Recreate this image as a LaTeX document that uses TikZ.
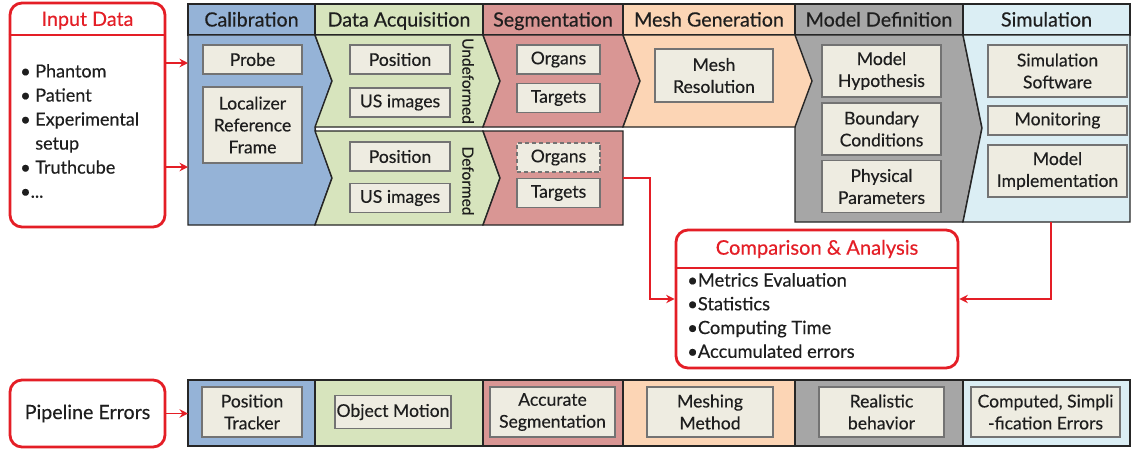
\documentclass[tikz,border=0pt]{standalone}
\usepackage{fontspec}
\setmainfont{Lato}[FakeBold=0.35]
\usetikzlibrary{arrows.meta,calc}

\definecolor{calib}{RGB}{149,179,215}
\definecolor{acq}{RGB}{215,228,189}
\definecolor{seg}{RGB}{217,150,148}
\definecolor{mesh}{RGB}{252,213,181}
\definecolor{model}{RGB}{166,166,166}
\definecolor{sim}{RGB}{219,238,244}
\definecolor{boxfill}{RGB}{238,236,225}
\definecolor{boxline}{RGB}{115,115,115}
\definecolor{redline}{RGB}{228,30,38}
\definecolor{txt}{RGB}{30,30,30}

\def\unitpx{0.025cm}

\begin{document}
\begin{tikzpicture}[x=0.025cm, y=-0.025cm,
    bw/.style={minimum width=#1*\unitpx},
    bh/.style={minimum height=#1*\unitpx},
    hcell/.style={draw=black!85, line width=1pt, inner sep=0pt, bh=31, text height=10pt, text depth=0pt, font=\fontsize{14}{16}\selectfont, text=txt},
    region/.style={draw=black!85, line width=1pt},
    ibox/.style={draw=boxline, fill=boxfill, line width=0.9pt, inner sep=1pt, align=center, font=\fontsize{12.5}{15.6}\selectfont, text=txt},
    rlabel/.style={rotate=-90, inner sep=0pt, font=\fontsize{11}{13}\selectfont, text=txt},
    redbox/.style={draw=redline, line width=2pt, rounded corners=0.3cm, fill=white, inner sep=0pt},
    rarr/.style={draw=redline, line width=1pt, -{Stealth[length=6pt,width=6pt]}}]
    \useasboundingbox (0,0) rectangle (1132,450);

    % header row
    \foreach \n/\c/\a/\b/\t in {hcal/calib/188/315/Calibration, hacq/acq/315/483/Data Acquisition,
        hseg/seg/483/623/Segmentation, hmesh/mesh/623/795/Mesh Generation,
        hmod/model/795/963/Model Definition, hsim/sim/963/1130/Simulation}
    \node[hcell, fill=\c, minimum width=(\b-\a)*\unitpx] (\n) at ({(\a+\b)/2},19.5) {\t};

    % stage regions
    \draw[region, fill=calib] (188,35) -- (315,35) -- (332,81) -- (315,129) -- (332,178) -- (315,225) -- (188,225) -- cycle;
    \draw[region, fill=model] (795,35) -- (963,35) -- (982,128) -- (963,222) -- (795,222) -- cycle;
    \draw[region, fill=sim] (963,35) -- (1130,35) -- (1130,222) -- (963,222) -- (982,128) -- cycle;
    \foreach \c/\a/\b in {acq/315/483, seg/483/623, mesh/623/795}
    \draw[region, fill=\c] (\a,35) -- (\b,35) -- (\b+17,81) -- (\b,127) -- (\a,127) -- (\a+17,81) -- cycle;
    \draw[region, fill=acq] (315,131) -- (483,131) -- (500,178) -- (483,225) -- (315,225) -- (332,178) -- cycle;
    \draw[region, fill=seg] (483,131) -- (623,131) -- (623,225) -- (483,225) -- (500,178) -- cycle;

    % calibration
    \node[ibox, bw=99, bh=29] (probe) at (252.5,59.5) {Probe};
    \node[ibox, bw=99, bh=76] (loc) at (252.5,125) {Localizer\\Reference\\Frame};
    % data acquisition
    \node[ibox, bw=100, bh=29] (posu) at (400,59.5) {Position};
    \node[ibox, bw=100, bh=29] (usu) at (400,102.5) {US images};
    \node[ibox, bw=100, bh=29] (posd) at (400,156.5) {Position};
    \node[ibox, bw=100, bh=29] (usd) at (400,198) {US images};
    \node[rlabel] (undef) at (468,81) {Undeformed};
    \node[rlabel] (def) at (468,181) {Deformed};
    % segmentation
    \node[ibox, bw=83, bh=29] (orgu) at (558.5,59.5) {Organs};
    \node[ibox, bw=83, bh=29] (taru) at (558.5,98) {Targets};
    \node[ibox, bw=83, bh=29, densely dashed] (orgd) at (558.5,157.5) {Organs};
    \node[ibox, bw=83, bh=29] (tard) at (558.5,193) {Targets};
    % mesh generation
    \node[ibox, bw=118, bh=53] (mres) at (714,75.5) {Mesh\\Resolution};
    % model definition
    \node[ibox, bw=119, bh=52] (hyp) at (881.5,71) {Model\\Hypothesis};
    \node[ibox, bw=119, bh=52] (bc) at (881.5,129) {Boundary\\Conditions};
    \node[ibox, bw=119, bh=52] (phys) at (881.5,186.5) {Physical\\Parameters};
    % simulation
    \node[ibox, bw=139, bh=52] (soft) at (1057.5,71) {Simulation\\Software};
    \node[ibox, bw=139, bh=29] (mon) at (1057.5,120.5) {Monitoring};
    \node[ibox, bw=139, bh=52] (impl) at (1057.5,171) {Model\\Implementation};

    % input data
    \node[redbox, bw=155, bh=224] (inp) at (87.5,115) {};
    \coordinate (inpl) at (0,35);
    \draw[redline, line width=1.5pt] (inp.west |- inpl) -- (inp.east |- inpl);
    \node[font=\fontsize{14}{16}\selectfont, text=redline] (inpt) at (87.5,20.5) {Input Data};
    \node[anchor=west, align=left, inner sep=0pt, font=\fontsize{12.8}{17.1}\selectfont, text=txt] (inpi) at (20,131)
        {\textbullet\ Phantom\\\textbullet\ Patient\\\textbullet\ Experimental\\\phantom{\textbullet\ }setup\\\textbullet\ Truthcube\\\textbullet...};
    \coordinate (cala) at (188,63);
    \coordinate (calb) at (188,167);
    \draw[rarr] (inp.east |- cala) -- (cala);
    \draw[rarr] (inp.east |- calb) -- (calb);

    % comparison
    \node[redbox, bw=282, bh=138] (cmp) at (817,299) {};
    \coordinate (cmpl) at (0,268);
    \draw[redline, line width=1.5pt] (cmp.west |- cmpl) -- (cmp.east |- cmpl);
    \node[font=\fontsize{14.3}{16}\selectfont, text=redline] (cmpt) at (817,249) {Comparison \& Analysis};
    \node[anchor=west, align=left, inner sep=0pt, font=\fontsize{13}{16.9}\selectfont, text=txt] (cmpi) at (687,315.5)
        {\textbullet Metrics Evaluation\\\textbullet Statistics\\\textbullet Computing Time\\\textbullet Accumulated errors};
    \coordinate (sego) at (623,178);
    \coordinate (simo) at (1051,222);
    \draw[rarr] (sego) -- ++(27,0) |- (cmp.west);
    \draw[rarr] (simo) |- (cmp.east);

    % pipeline errors
    \foreach \c/\a/\b in {calib/188/315, acq/315/483, seg/483/623, mesh/623/795, model/795/963, sim/963/1130}
    \draw[region, fill=\c] (\a,380) rectangle (\b,446);
    \node[ibox, bw=100, bh=50] (ptrk) at (252,412) {Position\\Tracker};
    \node[ibox, bw=116, bh=33] (omot) at (393,412) {Object Motion};
    \node[ibox, bw=125, bh=50] (aseg) at (552.5,412) {Accurate\\Segmentation};
    \node[ibox, bw=126, bh=50] (mmeth) at (710,412) {Meshing\\Method};
    \node[ibox, bw=125, bh=50] (rbeh) at (881.5,412) {Realistic\\behavior};
    \node[ibox, bw=149, bh=50] (cerr) at (1045.5,412) {Computed, Simpli\\-fication Errors};
    \node[redbox, bw=155, bh=67, font=\fontsize{14}{16}\selectfont, text=txt] (perr) at (87.5,413.5) {Pipeline Errors};
    \coordinate (bandw) at (188,413);
    \draw[rarr] (perr.east) -- (perr.east -| bandw);
\end{tikzpicture}
\end{document}
